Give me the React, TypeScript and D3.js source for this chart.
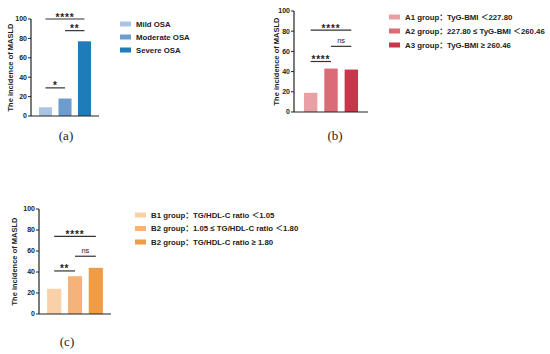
import React from "react";
import * as d3 from "d3";

// ---------- Data ----------
const osaGroups = ["Mild OSA", "Moderate OSA", "Severe OSA"];
const osaValues = [9, 18, 77];
const osaColors = ["#a9c5e3", "#6c9dcd", "#1f7cb9"];
const osaSig = [
  { from: 0, to: 1, value: 29, label: "*" },
  { from: 1, to: 2, value: 88, label: "**" },
  { from: 0, to: 2, value: 100, label: "****" },
];

const tygGroups = [
  "A1 group\uFF1ATyG-BMI \uFF1C227.80",
  "A2 group\uFF1A227.80 \u2264 TyG-BMI \uFF1C260.46",
  "A3 group\uFF1ATyG-BMI \u2265 260.46",
];
const tygValues = [19, 43, 42];
const tygColors = ["#e9a0a5", "#db6c77", "#c9364b"];
const tygSig = [
  { from: 0, to: 1, value: 50, label: "****" },
  { from: 1, to: 2, value: 65, label: "ns" },
  { from: 0, to: 2, value: 81, label: "****" },
];

const tgGroups = [
  "B1 group\uFF1ATG/HDL-C ratio \uFF1C1.05",
  "B2 group\uFF1A1.05 \u2264 TG/HDL-C ratio \uFF1C1.80",
  "B2 group\uFF1ATG/HDL-C ratio \u2265 1.80",
];
const tgValues = [24, 36, 44];
const tgColors = ["#f9d0a7", "#f6b379", "#f29b45"];
const tgSig = [
  { from: 0, to: 1, value: 41, label: "**" },
  { from: 1, to: 2, value: 55, label: "ns" },
  { from: 0, to: 2, value: 74, label: "****" },
];

const yTicks = [0, 20, 40, 60, 80, 100];
const yLabel = "The incidence of MASLD";

const FONT = "'Liberation Sans', Arial, 'Noto Sans CJK SC', sans-serif";

type Sig = { from: number; to: number; value: number; label: string };
type PanelProps = {
  groups: string[];
  values: number[];
  colors: string[];
  sig: Sig[];
  x0: number;
  x1: number;
  yTop: number;
  yBottom: number;
  labelOffset: number;
  legendX: number;
  legendY: number;
  legendStep: number;
  pInner: number;
  pOuter: number;
  caption: string;
  capX: number;
  capY: number;
};

function Panel(p: PanelProps) {
  const x = d3
    .scaleBand<number>()
    .domain(p.groups.map((_, i) => i))
    .range([p.x0, p.x1])
    .paddingInner(p.pInner)
    .paddingOuter(p.pOuter);
  const y = d3.scaleLinear().domain([0, 100]).range([p.yBottom, p.yTop]);
  const bw = x.bandwidth();
  const cx = (i: number) => (x(i) as number) + bw / 2;
  return (
    <g>
      {p.values.map((v, i) => (
        <rect
          key={i}
          x={x(i)}
          y={y(v)}
          width={bw}
          height={y(0) - y(v)}
          fill={p.colors[i]}
        />
      ))}
      {/* axes */}
      <line x1={p.x0} x2={p.x0} y1={y(100)} y2={y(0)} stroke="#222" strokeWidth={1.2} />
      <line x1={p.x0} x2={p.x1} y1={y(0)} y2={y(0)} stroke="#222" strokeWidth={1.2} />
      {yTicks.map((t) => (
        <g key={t}>
          <line x1={p.x0 - 3} x2={p.x0} y1={y(t)} y2={y(t)} stroke="#222" strokeWidth={1} />
          <text
            x={p.x0 - 4}
            y={y(t)}
            dy="0.35em"
            textAnchor="end"
            fontSize={7}
            fontWeight="bold"
            fontFamily={FONT}
            fill="#222"
          >
            {t}
          </text>
        </g>
      ))}
      <text
        transform={`translate(${p.x0 - p.labelOffset},${(y(0) + y(100)) / 2}) rotate(-90)`}
        textAnchor="middle"
        dy="0.35em"
        fontSize={7.5}
        fontWeight="bold"
        fontFamily={FONT}
        fill="#222"
      >
        {yLabel}
      </text>
      {/* significance */}
      {p.sig.map((s, i) => (
        <g key={i}>
          <line
            x1={cx(s.from)}
            x2={cx(s.to)}
            y1={y(s.value)}
            y2={y(s.value)}
            stroke="#333"
            strokeWidth={1.2}
          />
          <text
            x={(cx(s.from) + cx(s.to)) / 2}
            y={y(s.value) - (s.label === "ns" ? 3 : -1.5)}
            textAnchor="middle"
            fontSize={s.label === "ns" ? 7.5 : 10}
            fontWeight={s.label === "ns" ? "normal" : "bold"}
            letterSpacing={s.label === "ns" ? 0 : 0.8}
            fontFamily={FONT}
            fill="#222"
          >
            {s.label}
          </text>
        </g>
      ))}
      {/* legend */}
      {p.groups.map((g, i) => (
        <g key={g} transform={`translate(${p.legendX},${p.legendY + i * p.legendStep})`}>
          <rect x={0} y={-2.5} width={11} height={5} fill={p.colors[i]} />
          <text
            x={16}
            y={0}
            dy="0.35em"
            fontSize={7.8}
            fontWeight="bold"
            fontFamily={FONT}
            fill="#222"
          >
            {g}
          </text>
        </g>
      ))}
      <text
        x={p.capX}
        y={p.capY}
        textAnchor="middle"
        fontSize={13}
        fontFamily="'Liberation Serif', 'DejaVu Serif', serif"
        fill="#222"
      >
        {p.caption}
      </text>
    </g>
  );
}

export default function App() {
  return (
    <svg
      width={550}
      height={354}
      style={{ position: "absolute", left: 0, top: 0, background: "#fff" }}
    >
      <rect width={550} height={354} fill="#fff" />
      <Panel
        groups={osaGroups}
        values={osaValues}
        colors={osaColors}
        sig={osaSig}
        x0={31}
        x1={99}
        yTop={19}
        yBottom={116}
        labelOffset={21}
        legendX={120}
        legendY={24}
        legendStep={13}
        pInner={0.33}
        pOuter={0.41}
        caption="(a)"
        capX={66}
        capY={140}
      />
      <Panel
        groups={tygGroups}
        values={tygValues}
        colors={tygColors}
        sig={tygSig}
        x0={294}
        x1={368}
        yTop={11}
        yBottom={112}
        labelOffset={18}
        legendX={389}
        legendY={17}
        legendStep={14}
        pInner={0.34}
        pOuter={0.49}
        caption="(b)"
        capX={335}
        capY={140}
      />
      <Panel
        groups={tgGroups}
        values={tgValues}
        colors={tgColors}
        sig={tgSig}
        x0={39}
        x1={111}
        yTop={209}
        yBottom={314}
        labelOffset={25}
        legendX={135}
        legendY={215}
        legendStep={13.5}
        pInner={0.32}
        pOuter={0.39}
        caption="(c)"
        capX={67}
        capY={346}
      />
    </svg>
  );
}
